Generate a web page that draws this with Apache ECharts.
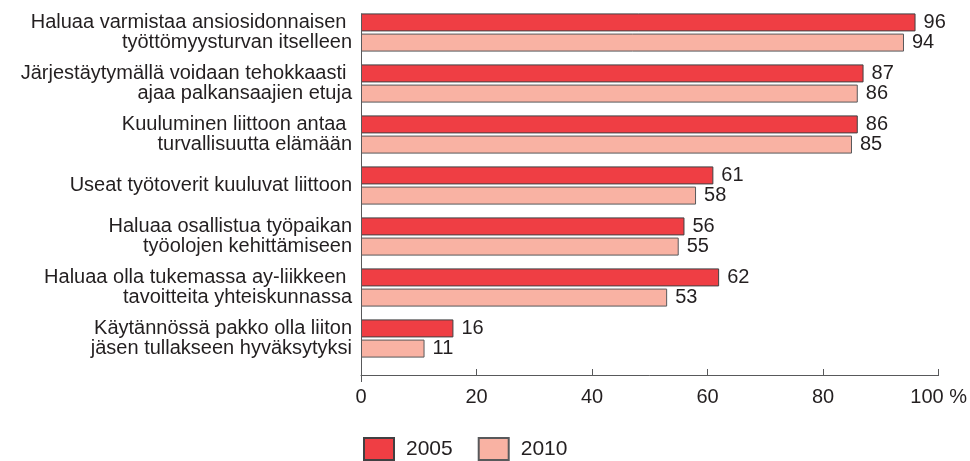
<!DOCTYPE html>
<html>
<head>
<meta charset="utf-8">
<script src="https://cdn.jsdelivr.net/npm/echarts@6/dist/echarts.min.js"></script>
<style>
html,body{margin:0;padding:0;background:#fff;}
#chart{width:970px;height:461px;}
</style>
</head>
<body>
<div id="chart"></div>
<script>
const categories = [
  "Haluaa varmistaa ansiosidonnaisen \ntyöttömyysturvan itselleen",
  "Järjestäytymällä voidaan tehokkaasti \najaa palkansaajien etuja",
  "Kuuluminen liittoon antaa \nturvallisuutta elämään",
  "Useat työtoverit kuuluvat liittoon",
  "Haluaa osallistua työpaikan\ntyöolojen kehittämiseen",
  "Haluaa olla tukemassa ay-liikkeen \ntavoitteita yhteiskunnassa",
  "Käytännössä pakko olla liiton\njäsen tullakseen hyväksytyksi"
];
const values2005 = [96, 87, 86, 61, 56, 62, 16];
const values2010 = [94, 86, 85, 58, 55, 53, 11];
const seriesNames = ["2005", "2010"];
const xTicks = [0, 20, 40, 60, 80, 100];

const FONT = "Liberation Sans, Arial, sans-serif";
const TXT = "#231f20";
const chart = echarts.init(document.getElementById('chart'), null, {renderer: 'canvas'});

const labelCfg = {
  show: true, position: 'right', distance: 8,
  color: TXT, fontSize: 20, fontFamily: FONT
};

chart.setOption({
  animation: false,
  backgroundColor: '#fff',
  grid: {left: 361, right: 30, top: 7, height: 357, containLabel: false},
  legend: {
    left: 363, top: 437, padding: 0,
    itemWidth: 30, itemHeight: 22, itemGap: 25,
    icon: 'rect',
    textStyle: {color: TXT, fontSize: 21, fontFamily: FONT, padding: [0, 0, 0, 7]},
    data: seriesNames
  },
  xAxis: {
    type: 'value', min: 0, max: 100, interval: 20,
    offset: 11,
    axisLine: {show: true, lineStyle: {color: '#58595b', width: 1}},
    axisTick: {show: true, inside: true, length: 6, lineStyle: {color: '#58595b'}},
    splitLine: {show: false},
    axisLabel: {
      color: TXT, fontSize: 20, fontFamily: FONT, margin: 12,
      formatter: v => (xTicks.indexOf(v) >= 0 ? (v === 100 ? '100 %' : String(v)) : '')
    }
  },
  yAxis: {
    type: 'category', inverse: true, data: categories,
    axisLine: {show: false},
    axisTick: {show: false},
    axisLabel: {
      color: TXT, fontSize: 20, fontFamily: FONT, margin: 9,
      align: 'right', lineHeight: 20
    }
  },
  series: [
    {
      name: seriesNames[0], type: 'bar', data: values2005,
      barWidth: 18, barGap: '12%',
      itemStyle: {color: '#ef3e44', borderColor: '#414042', borderWidth: 1},
      label: labelCfg
    },
    {
      name: seriesNames[1], type: 'bar', data: values2010,
      barWidth: 18, barGap: '12%',
      itemStyle: {color: '#f9b2a3', borderColor: '#58595b', borderWidth: 1},
      label: labelCfg
    }
  ]
});

// vertical axis line (decoration) computed from the scales
const x0 = chart.convertToPixel({xAxisIndex: 0}, 0);
const yFirst = chart.convertToPixel({yAxisIndex: 0}, 0);
const yLast = chart.convertToPixel({yAxisIndex: 0}, categories.length - 1);
const band = categories.length > 1 ? (yLast - yFirst) / (categories.length - 1) : 51;
chart.setOption({
  graphic: [{
    type: 'line', silent: true, z: 100,
    shape: {x1: x0 + 0.5, y1: yFirst - band * 0.375, x2: x0 + 0.5, y2: yLast + band / 2 + 18},
    style: {stroke: '#58595b', lineWidth: 1}
  }]
});
</script>
</body>
</html>
